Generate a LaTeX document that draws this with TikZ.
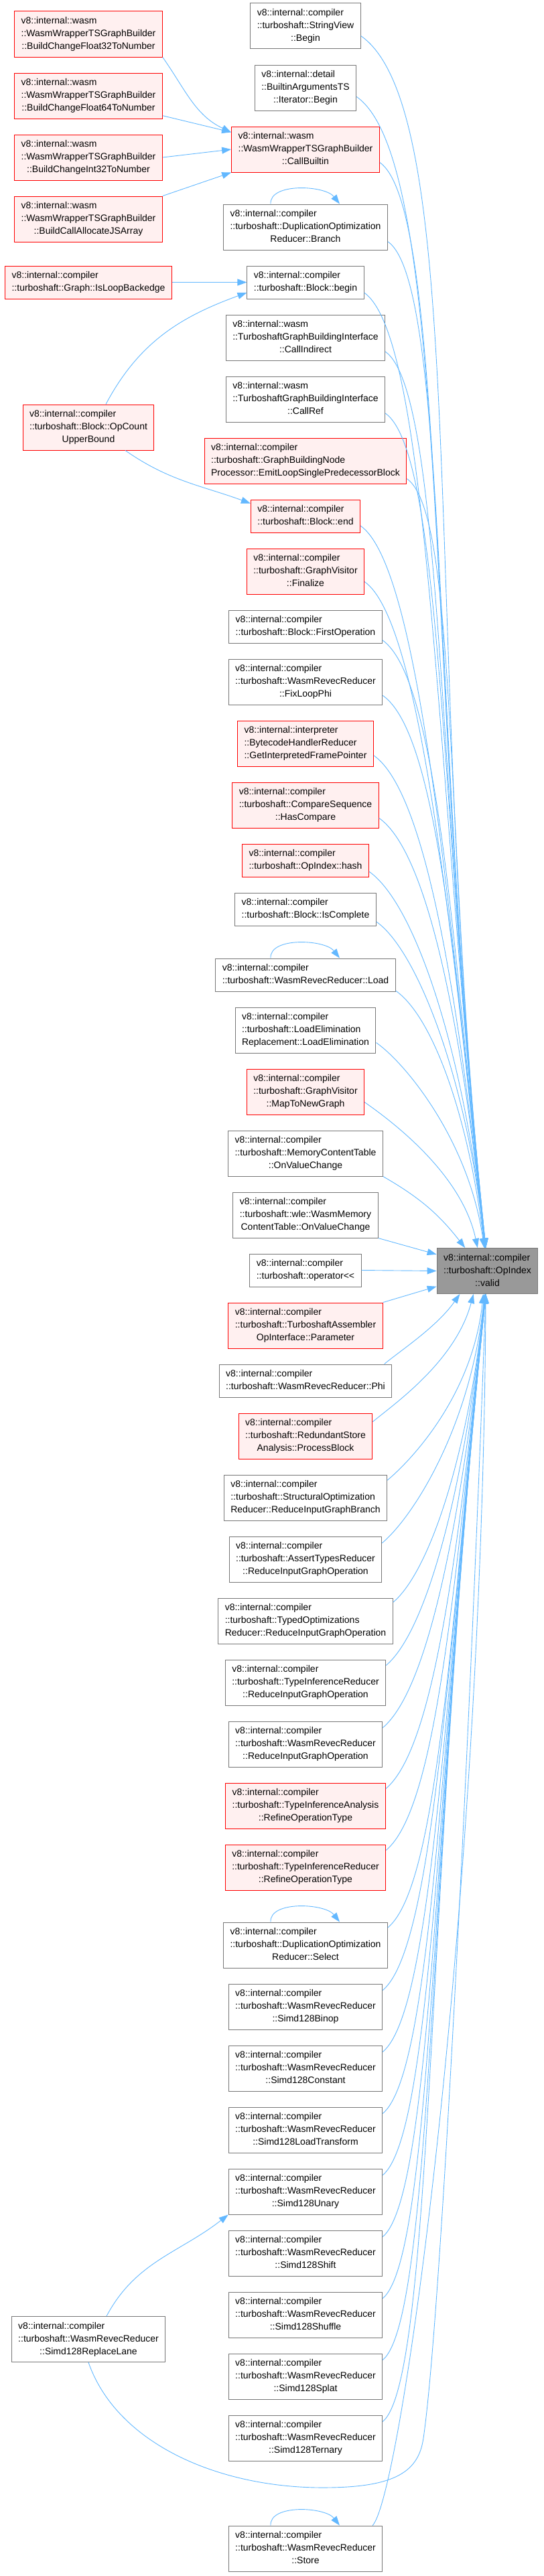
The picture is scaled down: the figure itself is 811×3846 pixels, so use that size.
\documentclass[tikz,border=0pt]{standalone}
\usepackage{fontspec}
\newfontfamily\dxsans{Liberation Sans}
\usepackage{tikz}
\usetikzlibrary{arrows.meta,positioning}
\definecolor{callblue}{HTML}{63B8FF}
\definecolor{nodocred}{HTML}{FF0000}
\definecolor{nodocfill}{HTML}{FFF0F0}
\definecolor{framegray}{HTML}{777777}
\definecolor{focusfill}{HTML}{999999}
\tikzset{
  fnbox/.style={draw=framegray, fill=white, line width=1pt, inner xsep=10pt, inner ysep=5.5pt, font=\dxsans\fontsize{14}{19}\selectfont},
  nodoc/.style={fnbox, draw=nodocred, fill=nodocfill},
  focus/.style={fnbox, fill=focusfill},
  call/.style={-{Triangle[length=14pt,width=10pt]}, draw=callblue, line width=0.9pt},
}
\newcommand{\threeln}[3]{\begin{tabular}{@{}l@{}}#1\\#2\\\multicolumn{1}{@{}c@{}}{#3}\end{tabular}}
\newcommand{\twoln}[2]{\begin{tabular}{@{}l@{}}#1\\\multicolumn{1}{@{}c@{}}{#2}\end{tabular}}

\begin{document}
\begin{tikzpicture}[x=1pt, y=-1pt]
  \useasboundingbox (0,0) rectangle (811,3846);

  % the function whose callers are shown
  \node[focus] (valid) at (727.5,1897.5) {\threeln{v8::internal::compiler}{::turboshaft::OpIndex}{::valid}};

  % direct callers
  \node[fnbox] (svbegin) at (456,39) {\threeln{v8::internal::compiler}{::turboshaft::StringView}{::Begin}};
  \node[fnbox, below=23pt of svbegin] (itbegin) {\threeln{v8::internal::detail}{::BuiltinArgumentsTS}{::Iterator::Begin}};
  \node[nodoc, below=23pt of itbegin] (callb) {\threeln{v8::internal::wasm}{::WasmWrapperTSGraphBuilder}{::CallBuiltin}};
  \node[fnbox, below=47pt of callb] (dbranch) {\threeln{v8::internal::compiler}{::turboshaft::DuplicationOptimization}{Reducer::Branch}};
  \node[fnbox, below=23pt of dbranch] (bbegin) {\twoln{v8::internal::compiler}{::turboshaft::Block::begin}};
  \node[fnbox, below=23pt of bbegin] (callind) {\threeln{v8::internal::wasm}{::TurboshaftGraphBuildingInterface}{::CallIndirect}};
  \node[fnbox, below=23pt of callind] (callref) {\threeln{v8::internal::wasm}{::TurboshaftGraphBuildingInterface}{::CallRef}};
  \node[nodoc, below=23pt of callref] (emitloop) {\threeln{v8::internal::compiler}{::turboshaft::GraphBuildingNode}{Processor::EmitLoopSinglePredecessorBlock}};
  \node[nodoc, below=23pt of emitloop] (bend) {\twoln{v8::internal::compiler}{::turboshaft::Block::end}};
  \node[nodoc, below=23pt of bend] (gvfin) {\threeln{v8::internal::compiler}{::turboshaft::GraphVisitor}{::Finalize}};
  \node[fnbox, below=23pt of gvfin] (firstop) {\twoln{v8::internal::compiler}{::turboshaft::Block::FirstOperation}};
  \node[fnbox, below=23pt of firstop] (fixphi) {\threeln{v8::internal::compiler}{::turboshaft::WasmRevecReducer}{::FixLoopPhi}};
  \node[nodoc, below=23pt of fixphi] (framept) {\threeln{v8::internal::interpreter}{::BytecodeHandlerReducer}{::GetInterpretedFramePointer}};
  \node[nodoc, below=23pt of framept] (hascmp) {\threeln{v8::internal::compiler}{::turboshaft::CompareSequence}{::HasCompare}};
  \node[nodoc, below=23pt of hascmp] (ophash) {\twoln{v8::internal::compiler}{::turboshaft::OpIndex::hash}};
  \node[fnbox, below=23pt of ophash] (iscompl) {\twoln{v8::internal::compiler}{::turboshaft::Block::IsComplete}};
  \node[fnbox, below=48pt of iscompl] (rload) {\twoln{v8::internal::compiler}{::turboshaft::WasmRevecReducer::Load}};
  \node[fnbox, below=23pt of rload] (loadelim) {\threeln{v8::internal::compiler}{::turboshaft::LoadElimination}{Replacement::LoadElimination}};
  \node[nodoc, below=23pt of loadelim] (mapng) {\threeln{v8::internal::compiler}{::turboshaft::GraphVisitor}{::MapToNewGraph}};
  \node[fnbox, below=23pt of mapng] (mctchg) {\threeln{v8::internal::compiler}{::turboshaft::MemoryContentTable}{::OnValueChange}};
  \node[fnbox, below=23pt of mctchg] (wmctchg) {\threeln{v8::internal::compiler}{::turboshaft::wle::WasmMemory}{ContentTable::OnValueChange}};
  \node[fnbox, below=23pt of wmctchg] (oplt) {\twoln{v8::internal::compiler}{::turboshaft::operator<{}<}};
  \node[nodoc, below=23pt of oplt] (param) {\threeln{v8::internal::compiler}{::turboshaft::TurboshaftAssembler}{OpInterface::Parameter}};
  \node[fnbox, below=23pt of param] (rphi) {\twoln{v8::internal::compiler}{::turboshaft::WasmRevecReducer::Phi}};
  \node[nodoc, below=23pt of rphi] (procblk) {\threeln{v8::internal::compiler}{::turboshaft::RedundantStore}{Analysis::ProcessBlock}};
  \node[fnbox, below=23pt of procblk] (sobranch) {\threeln{v8::internal::compiler}{::turboshaft::StructuralOptimization}{Reducer::ReduceInputGraphBranch}};
  \node[fnbox, below=23pt of sobranch] (atrigo) {\threeln{v8::internal::compiler}{::turboshaft::AssertTypesReducer}{::ReduceInputGraphOperation}};
  \node[fnbox, below=23pt of atrigo] (torigo) {\threeln{v8::internal::compiler}{::turboshaft::TypedOptimizations}{Reducer::ReduceInputGraphOperation}};
  \node[fnbox, below=23pt of torigo] (tirigo) {\threeln{v8::internal::compiler}{::turboshaft::TypeInferenceReducer}{::ReduceInputGraphOperation}};
  \node[fnbox, below=23pt of tirigo] (rrigo) {\threeln{v8::internal::compiler}{::turboshaft::WasmRevecReducer}{::ReduceInputGraphOperation}};
  \node[nodoc, below=23pt of rrigo] (tarefine) {\threeln{v8::internal::compiler}{::turboshaft::TypeInferenceAnalysis}{::RefineOperationType}};
  \node[nodoc, below=23pt of tarefine] (tirefine) {\threeln{v8::internal::compiler}{::turboshaft::TypeInferenceReducer}{::RefineOperationType}};
  \node[fnbox, below=47pt of tirefine] (dselect) {\threeln{v8::internal::compiler}{::turboshaft::DuplicationOptimization}{Reducer::Select}};
  \node[fnbox, below=23pt of dselect] (sbinop) {\threeln{v8::internal::compiler}{::turboshaft::WasmRevecReducer}{::Simd128Binop}};
  \node[fnbox, below=23pt of sbinop] (sconst) {\threeln{v8::internal::compiler}{::turboshaft::WasmRevecReducer}{::Simd128Constant}};
  \node[fnbox, below=23pt of sconst] (sloadtr) {\threeln{v8::internal::compiler}{::turboshaft::WasmRevecReducer}{::Simd128LoadTransform}};
  \node[fnbox, below=23pt of sloadtr] (sunary) {\threeln{v8::internal::compiler}{::turboshaft::WasmRevecReducer}{::Simd128Unary}};
  \node[fnbox, below=23pt of sunary] (sshift) {\threeln{v8::internal::compiler}{::turboshaft::WasmRevecReducer}{::Simd128Shift}};
  \node[fnbox, below=23pt of sshift] (sshuffle) {\threeln{v8::internal::compiler}{::turboshaft::WasmRevecReducer}{::Simd128Shuffle}};
  \node[fnbox, below=23pt of sshuffle] (ssplat) {\threeln{v8::internal::compiler}{::turboshaft::WasmRevecReducer}{::Simd128Splat}};
  \node[fnbox, below=23pt of ssplat] (sternary) {\threeln{v8::internal::compiler}{::turboshaft::WasmRevecReducer}{::Simd128Ternary}};
  \node[fnbox, below=96pt of sternary] (rstore) {\threeln{v8::internal::compiler}{::turboshaft::WasmRevecReducer}{::Store}};

  % second level callers
  \node[nodoc] (bf32) at (132,51) {\threeln{v8::internal::wasm}{::WasmWrapperTSGraphBuilder}{::BuildChangeFloat32ToNumber}};
  \node[nodoc, below=23pt of bf32] (bf64) {\threeln{v8::internal::wasm}{::WasmWrapperTSGraphBuilder}{::BuildChangeFloat64ToNumber}};
  \node[nodoc, below=23pt of bf64] (bi32) {\threeln{v8::internal::wasm}{::WasmWrapperTSGraphBuilder}{::BuildChangeInt32ToNumber}};
  \node[nodoc, below=23pt of bi32] (bjsarr) {\threeln{v8::internal::wasm}{::WasmWrapperTSGraphBuilder}{::BuildCallAllocateJSArray}};
  \node[nodoc] (loopback) at (132,421.5) {\twoln{v8::internal::compiler}{::turboshaft::Graph::IsLoopBackedge}};
  \node[nodoc] (opcount) at (132,638) {\threeln{v8::internal::compiler}{::turboshaft::Block::OpCount}{UpperBound}};
  \node[fnbox] (sreplace) at (132,3492.5) {\threeln{v8::internal::compiler}{::turboshaft::WasmRevecReducer}{::Simd128ReplaceLane}};
  \coordinate (dip) at (489,3714);
  \coordinate (rise) at (632,3640);

  % calls into the second level
  \draw[call] (bf32.south east) to[out=-55, in=155] (callb.167);
  \draw[call] (bf64.-15) -- (callb.167);
  \draw[call] (bi32.east) -- (callb.west);
  \draw[call] (bjsarr.north east) -- (callb.south west);
  \draw[call] (loopback.east) -- (bbegin.west);
  \draw[call] ([xshift=26pt]opcount.north) to[out=62, in=200] (bbegin.190);
  \draw[call] ([xshift=55pt]opcount.south) to[out=-35, in=160] (bend.167);
  \draw[call] ([xshift=27pt]sreplace.north) to[out=62, in=218] (sunary.south west);

  % recursive calls
  \draw[call] ([xshift=-52pt]dbranch.north) .. controls +(-2,-32) and +(-22,-28) .. ([xshift=51pt]dbranch.north);
  \draw[call] ([xshift=-52pt]rload.north) .. controls +(-2,-32) and +(-22,-28) .. ([xshift=51pt]rload.north);
  \draw[call] ([xshift=-52pt]dselect.north) .. controls +(-2,-32) and +(-22,-28) .. ([xshift=51pt]dselect.north);
  \draw[call] ([xshift=-52pt]rstore.north) .. controls +(-2,-32) and +(-22,-28) .. ([xshift=51pt]rstore.north);

  % calls into OpIndex::valid, from above
  \draw[call] (svbegin.-10) .. controls +(-35:200pt) and +(96:910pt) .. (valid.94);
  \draw[call] (itbegin.-10) .. controls +(-35:170pt) and +(96:865pt) .. (valid.94);
  \draw[call] (callb.-10) .. controls +(-35:120pt) and +(96:820pt) .. (valid.94);
  \draw[call] (dbranch.-10) .. controls +(-35:110pt) and +(96:760pt) .. (valid.94);
  \draw[call] (bbegin.-10) .. controls +(-35:120pt) and +(96:720pt) .. (valid.94);
  \draw[call] (callind.-10) .. controls +(-35:105pt) and +(96:680pt) .. (valid.95);
  \draw[call] (callref.-10) .. controls +(-35:105pt) and +(96:635pt) .. (valid.95);
  \draw[call] (emitloop.-10) .. controls +(-35:95pt) and +(96:590pt) .. (valid.95);
  \draw[call] (bend.-10) .. controls +(-35:105pt) and +(96:545pt) .. (valid.95);
  \draw[call] (gvfin.-10) .. controls +(-35:100pt) and +(96:505pt) .. (valid.95);
  \draw[call] (firstop.-10) .. controls +(-35:100pt) and +(96:465pt) .. (valid.95);
  \draw[call] (fixphi.-10) .. controls +(-35:100pt) and +(96:420pt) .. (valid.96);
  \draw[call] (framept.-10) .. controls +(-35:95pt) and +(96:375pt) .. (valid.96);
  \draw[call] (hascmp.-10) .. controls +(-35:90pt) and +(96:330pt) .. (valid.96);
  \draw[call] (ophash.-10) .. controls +(-35:85pt) and +(96:290pt) .. (valid.96);
  \draw[call] (iscompl.-10) .. controls +(-35:75pt) and +(96:250pt) .. (valid.96);
  \draw[call] (rload.-10) .. controls +(-35:65pt) and +(97:205pt) .. (valid.97);
  \draw[call] (loadelim.-10) .. controls +(-35:55pt) and +(98:160pt) .. (valid.98);
  \draw[call] (mapng.-10) .. controls +(-35:45pt) and +(102:115pt) .. (valid.113);
  \draw[call] (mctchg.south east) to[out=-30, in=128] (valid.134);
  \draw[call] (wmctchg.south east) -- (valid.162);
  \draw[call] (oplt.east) -- (valid.west);

  % calls into OpIndex::valid, from below
  \draw[call] (param.north east) -- (valid.197);
  \draw[call] (rphi.12) .. controls +(40:30pt) and +(-125:60pt) .. (valid.-140);
  \draw[call] (procblk.12) .. controls +(40:40pt) and +(-105:105pt) .. (valid.-121);
  \draw[call] (sobranch.12) .. controls +(40:50pt) and +(-96:150pt) .. (valid.-100);
  \draw[call] (atrigo.12) .. controls +(40:60pt) and +(-96:200pt) .. (valid.-97);
  \draw[call] (torigo.12) .. controls +(40:70pt) and +(-96:245pt) .. (valid.-96);
  \draw[call] (tirigo.12) .. controls +(40:80pt) and +(-96:290pt) .. (valid.-96);
  \draw[call] (rrigo.12) .. controls +(40:90pt) and +(-96:335pt) .. (valid.-95);
  \draw[call] (tarefine.12) .. controls +(40:95pt) and +(-96:385pt) .. (valid.-95);
  \draw[call] (tirefine.12) .. controls +(40:100pt) and +(-96:430pt) .. (valid.-95);
  \draw[call] (dselect.12) .. controls +(40:100pt) and +(-96:485pt) .. (valid.-95);
  \draw[call] (sbinop.12) .. controls +(40:100pt) and +(-96:535pt) .. (valid.-94);
  \draw[call] (sconst.12) .. controls +(40:100pt) and +(-96:580pt) .. (valid.-94);
  \draw[call] (sloadtr.12) .. controls +(40:100pt) and +(-96:625pt) .. (valid.-94);
  \draw[call] (sunary.12) .. controls +(40:100pt) and +(-96:670pt) .. (valid.-94);
  \draw[call] (sshift.12) .. controls +(40:100pt) and +(-96:715pt) .. (valid.-94);
  \draw[call] (sshuffle.12) .. controls +(40:100pt) and +(-96:765pt) .. (valid.-94);
  \draw[call] (ssplat.12) .. controls +(40:100pt) and +(-96:810pt) .. (valid.-94);
  \draw[call] (sternary.12) .. controls +(40:100pt) and +(-96:855pt) .. (valid.-94);
  \draw[call] (rstore.19) .. controls +(45,-50) and +(-5,900) .. (valid.-94);
  \draw[call] (sreplace.south) .. controls (175,3650) and (330,3716) .. (dip)
    .. controls (590,3713) and (625,3690) .. (rise)
    .. controls (660,3450) and (705,2500) .. (valid.-94);
\end{tikzpicture}
\end{document}
